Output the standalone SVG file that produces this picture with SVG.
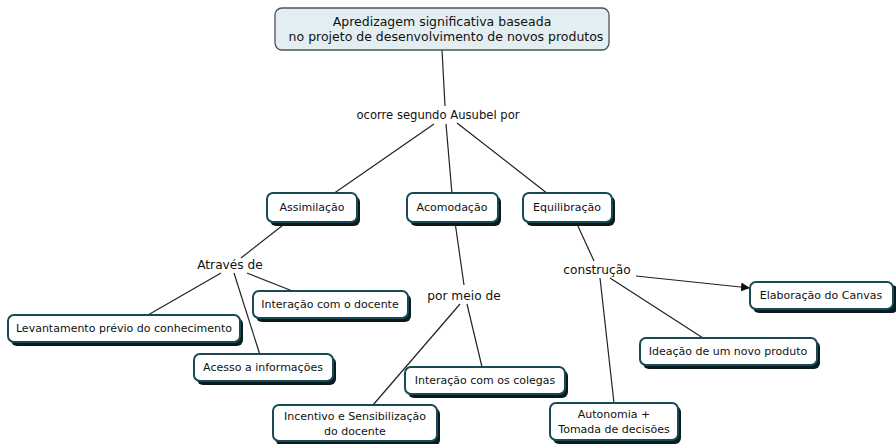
<svg xmlns="http://www.w3.org/2000/svg" width="896" height="444" viewBox="0 0 896 444">
<defs>
<style>
.sh{fill:#0a1a1e}
.bx{fill:#fff;stroke:#174a55;stroke-width:2}
.top{fill:#e2eef2;stroke:#4a5456;stroke-width:1.3}
.t{font-family:"DejaVu Sans",Verdana,sans-serif;font-size:11px;fill:#111;text-anchor:middle}
.tt{font-family:"DejaVu Sans",Verdana,sans-serif;font-size:12.5px;fill:#111;text-anchor:middle}
.lk{font-family:"DejaVu Sans",Verdana,sans-serif;font-size:12.2px;fill:#111;text-anchor:middle}
.ln{stroke:#222;stroke-width:1.2;fill:none}
</style>
<marker id="ar" viewBox="0 0 10 10" refX="10" refY="5" markerWidth="9" markerHeight="9" markerUnits="userSpaceOnUse" orient="auto"><path d="M0,0L10,5L0,10z" fill="#111"/></marker>
</defs>
<rect width="896" height="444" fill="#fff"/>
<g id="connectors">
<line class="ln" x1="442" y1="50" x2="445" y2="106"/>
<line class="ln" x1="434" y1="124" x2="333" y2="194"/>
<line class="ln" x1="446" y1="124" x2="452" y2="194"/>
<line class="ln" x1="457" y1="123" x2="548" y2="194"/>
<line class="ln" x1="287" y1="222" x2="241" y2="258"/>
<line class="ln" x1="221" y1="273" x2="148" y2="315"/>
<line class="ln" x1="234" y1="273" x2="260" y2="355"/>
<line class="ln" x1="247" y1="273" x2="295" y2="292"/>
<line class="ln" x1="455" y1="222" x2="464" y2="285"/>
<line class="ln" x1="467" y1="304" x2="482" y2="367"/>
<line class="ln" x1="460" y1="304" x2="373" y2="405"/>
<line class="ln" x1="577" y1="224" x2="594" y2="261"/>
<line class="ln" x1="636" y1="276" x2="750" y2="288" marker-end="url(#ar)"/>
<line class="ln" x1="610" y1="278" x2="703" y2="338"/>
<line class="ln" x1="600" y1="278" x2="614" y2="403"/>
</g>
<g id="n-top"><rect class="top" x="275" y="8" width="334" height="42" rx="7"/><text class="tt" x="442" y="26">Apredizagem significativa baseada</text><text class="tt" x="446" y="41">no projeto de desenvolvimento de novos produtos</text></g>
<g id="l-ocorre"><text class="lk" x="438" y="119" style="font-size:11.6px">ocorre segundo Ausubel por</text></g>
<g id="n-assim"><rect class="sh" x="270" y="196" width="90" height="30" rx="6"/><rect class="bx" x="267" y="193" width="90" height="29" rx="6"/><text class="t" x="312" y="211">Assimilação</text></g>
<g id="n-acom"><rect class="sh" x="410" y="196" width="91" height="30" rx="6"/><rect class="bx" x="407" y="193" width="91" height="29" rx="6"/><text class="t" x="452" y="211">Acomodação</text></g>
<g id="n-equi"><rect class="sh" x="526" y="196" width="89" height="30" rx="6"/><rect class="bx" x="523" y="193" width="89" height="29" rx="6"/><text class="t" x="567" y="211">Equilibração</text></g>
<g id="l-atraves"><text class="lk" x="230" y="269">Através de</text></g>
<g id="n-intdoc"><rect class="sh" x="256" y="294" width="155" height="28" rx="6"/><rect class="bx" x="253" y="291" width="155" height="27" rx="6"/><text class="t" x="330" y="308">Interação com o docente</text></g>
<g id="n-lev"><rect class="sh" x="11" y="318" width="232" height="28" rx="6"/><rect class="bx" x="8" y="315" width="232" height="27" rx="6"/><text class="t" x="124" y="332">Levantamento prévio do conhecimento</text></g>
<g id="n-acesso"><rect class="sh" x="197" y="357" width="139" height="28" rx="6"/><rect class="bx" x="194" y="354" width="139" height="27" rx="6"/><text class="t" x="263" y="371">Acesso a informações</text></g>
<g id="l-pormeio"><text class="lk" x="464" y="300">por meio de</text></g>
<g id="l-constr"><text class="lk" x="597" y="274">construção</text></g>
<g id="n-canvas"><rect class="sh" x="753" y="285" width="145" height="28" rx="6"/><rect class="bx" x="750" y="282" width="143" height="27" rx="6"/><text class="t" x="821" y="299">Elaboração do Canvas</text></g>
<g id="n-ideacao"><rect class="sh" x="643" y="341" width="177" height="28" rx="6"/><rect class="bx" x="640" y="338" width="177" height="27" rx="6"/><text class="t" x="728" y="355">Ideação de um novo produto</text></g>
<g id="n-colegas"><rect class="sh" x="408" y="370" width="160" height="28" rx="6"/><rect class="bx" x="405" y="367" width="160" height="27" rx="6"/><text class="t" x="485" y="384">Interação com os colegas</text></g>
<g id="n-incentivo"><rect class="sh" x="276" y="408" width="164" height="38" rx="6"/><rect class="bx" x="273" y="405" width="164" height="36" rx="6"/><text class="t" x="355" y="420">Incentivo e Sensibilização</text><text class="t" x="355" y="435">do docente</text></g>
<g id="n-autonomia"><rect class="sh" x="553" y="406" width="128" height="38" rx="6"/><rect class="bx" x="550" y="403" width="128" height="37" rx="6"/><text class="t" x="614" y="418">Autonomia +</text><text class="t" x="614" y="433">Tomada de decisões</text></g>
</svg>
